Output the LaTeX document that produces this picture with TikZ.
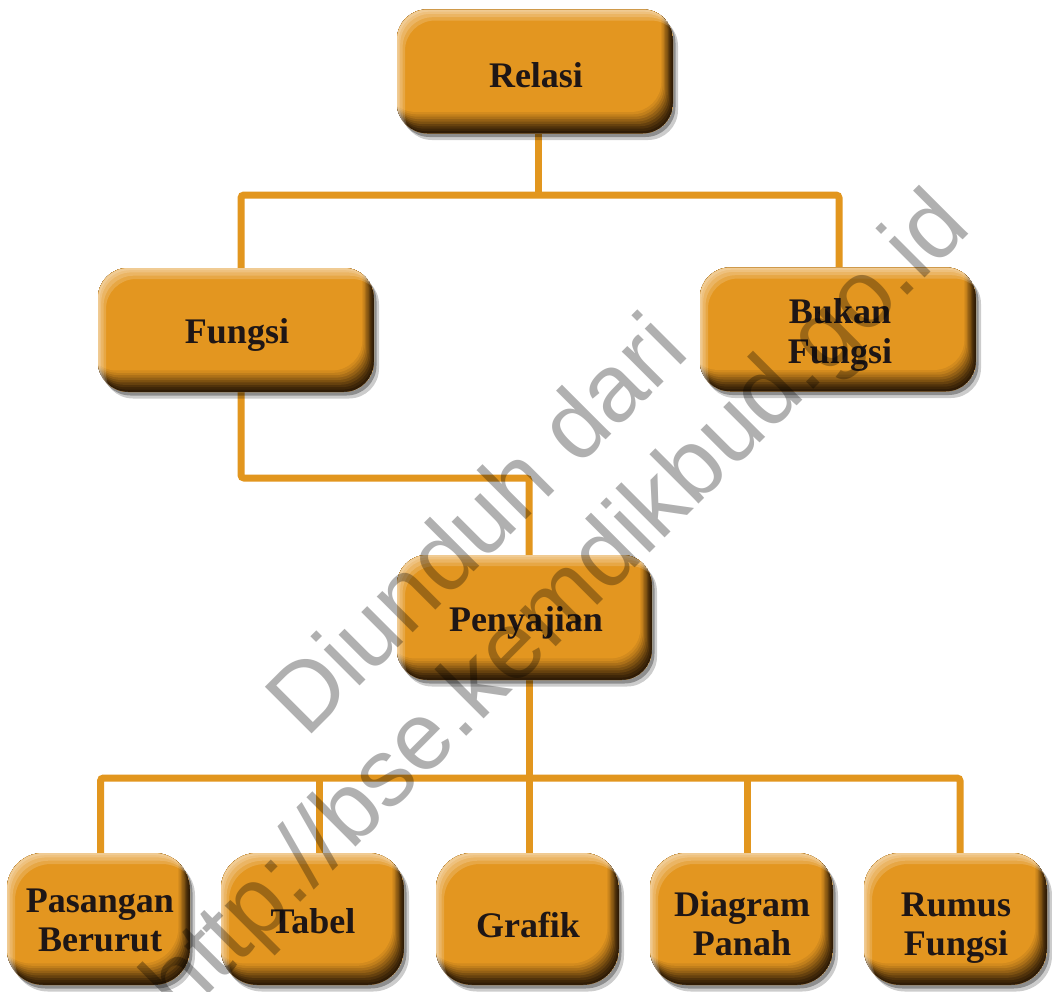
\documentclass[tikz,border=0pt]{standalone}
\usepackage{fontspec}
\setmainfont{Liberation Serif}
\newfontfamily\wmfont{Liberation Sans}
\usetikzlibrary{shadows}
\definecolor{bbase}{RGB}{227,150,32}
\definecolor{bdark}{RGB}{48,28,6}
\definecolor{lineor}{RGB}{226,150,30}
\definecolor{txtc}{RGB}{30,22,22}
\pgfdeclarelayer{bg}\pgfsetlayers{bg,main}
\newcommand\bevshape[3]{%
  \fill[#1, rounded corners=\bevr] ([shift={(#2,#3)}]path picture bounding box.south west) rectangle ([shift={(#2,#3)}]path picture bounding box.north east);}
\newcommand\bevelpaint{%
  \bevshape{bdark}{0}{0}%
  \foreach \k/\m in {1/92,2/82,3/70,4/57,5/44,6/31,7/19,8/9,9/0}{\bevshape{bdark!\m!bbase}{-1.3*\k}{-2.4*\k}}%
  \foreach \k in {10,7,4,2}{\fill[white,opacity=.17,even odd rule,rounded corners=\bevr]
     (path picture bounding box.south west) rectangle (path picture bounding box.north east)
     ([shift={(\k*0.8,\k*1.1)}]path picture bounding box.south west) rectangle ([shift={(\k*0.8,\k*1.1)}]path picture bounding box.north east);}%
}
\tikzset{
  boxbase/.style={rectangle, fill=bbase, inner sep=0pt, rounded corners=#1,
    general shadow={fill=black,opacity=.30,shadow xshift=2.5pt,shadow yshift=-3.5pt},
    general shadow={fill=black,opacity=.20,shadow xshift=5pt,shadow yshift=-6.5pt},
    path picture={\def\bevr{#1}\bevelpaint}},
  topbox/.style={boxbase=30pt, minimum width=276pt, minimum height=124pt},
  penbox/.style={boxbase=30pt, minimum width=255pt, minimum height=125pt},
  botbox/.style={boxbase=36pt, minimum width=183pt, minimum height=132pt},
  lbl/.style={font=\bfseries\fontsize{36}{39.5}\selectfont, align=center, inner sep=0pt, text=txtc},
  conn/.style={draw=lineor, line width=7pt, rounded corners=3pt},
  wm/.style={font=\wmfont\fontsize{96}{110}\selectfont, text=black, text opacity=.31, inner sep=0pt}
}
\begin{document}
\begin{tikzpicture}[x=1pt,y=-1pt]
\useasboundingbox (0,0) rectangle (1052,991);
% boxes
\node[topbox] (relasi) at (535,71.5) {};
\node[topbox] (fungsi) at (236,330) {};
\node[topbox] (bukan) at (838,329.5) {};
\node[penbox] (penyajian) at (524.5,617.5) {};
\node[botbox] (pasangan) at (98.5,919) {};
\node[botbox] (tabel) at (312.5,919) {};
\node[botbox] (grafik) at (527.5,919) {};
\node[botbox] (diagram) at (741.5,919) {};
\node[botbox] (rumus) at (955.5,919) {};
% labels
\node[lbl] (relasi-t) at (536,75) {Relasi};
\node[lbl] (fungsi-t) at (237,334.5) {Fungsi};
\node[lbl] (bukan-t) at (840,335) {Bukan\\Fungsi};
\node[lbl] (penyajian-t) at (526,622.5) {Penyajian};
\node[lbl] (pasangan-t) at (100,920.6) {Pasangan\\Berurut};
\node[lbl] (tabel-t) at (313,921) {Tabel};
\node[lbl] (grafik-t) at (528,924.5) {Grafik};
\node[lbl] (diagram-t) at (742,923.7) {Diagram\\Panah};
\node[lbl] (rumus-t) at (956,928) {Rumus\\Fungsi};
% connectors
\coordinate (j1) at (538,195);
\coordinate (j2) at (529,478);
\coordinate (j3) at (529,778);
\begin{pgfonlayer}{bg}
\fill[white] (0,0) rectangle (1052,991);
\draw[conn] (relasi.south -| j1) -- (j1);
\draw[conn] ([xshift=5pt]fungsi.north) |- (j1) -| ([xshift=1pt]bukan.north);
\draw[conn] ([xshift=5pt]fungsi.south) |- (j2) -- (penyajian.north -| j2);
\draw[conn] (penyajian.south -| j3) -- (j3);
\draw[conn] ([xshift=2pt]pasangan.north) |- (j3) -| ([xshift=4.5pt]rumus.north);
\draw[conn] ([xshift=6.5pt]tabel.north) -- ([xshift=6.5pt]tabel.north |- j3);
\draw[conn] (grafik.north -| j3) -- (j3);
\draw[conn] ([xshift=5.5pt]diagram.north) -- ([xshift=5.5pt]diagram.north |- j3);
\end{pgfonlayer}
% watermark
\node[wm, rotate=45, anchor=base] (wm1) at (499,547) {Diunduh dari};
\node[wm, rotate=45, anchor=base] (wm2) at (577.5,625.5) {http://bse.kemdikbud.go.id};
\end{tikzpicture}
\end{document}
